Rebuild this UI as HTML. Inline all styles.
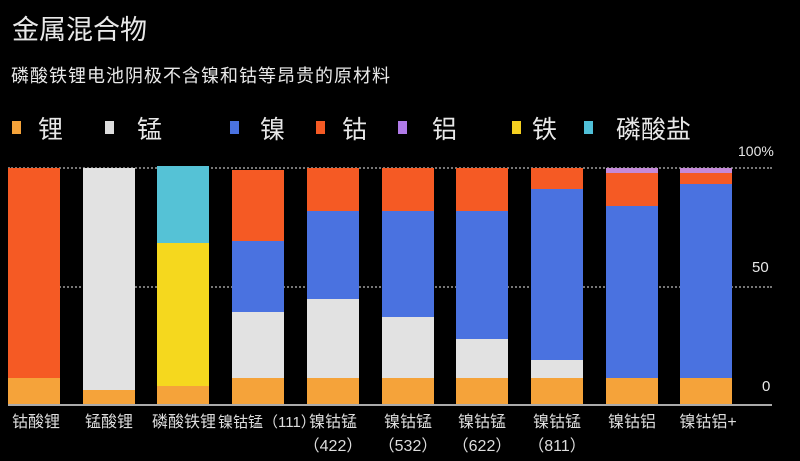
<!DOCTYPE html>
<html><head><meta charset="utf-8"><style>
body{margin:0;width:800px;height:461px;background:#000;overflow:hidden;position:relative;font-family:"Liberation Sans","Noto Sans CJK SC",sans-serif;color:#e8e8e8}
.a{position:absolute;white-space:nowrap}
.sq{position:absolute;width:9px;height:13px;top:121px}
.b{position:absolute;width:52px}
.g{position:absolute;height:0;border-top:2px dotted #777}
.lb{position:absolute;font-size:16px;text-align:center;width:80px;line-height:24px;color:#ddd}
</style></head><body>
<div class="a" style="left:12px;top:8px;font-size:27px">金属混合物</div>
<div class="a" style="left:11px;top:62px;font-size:18px;letter-spacing:1px">磷酸铁锂电池阴极不含镍和钴等昂贵的原材料</div>

<div class="sq" style="left:12px;background:#f5a33a"></div><div class="a" style="left:38px;top:110px;font-size:25px">锂</div>
<div class="sq" style="left:105px;background:#ddd"></div><div class="a" style="left:137px;top:110px;font-size:25px">锰</div>
<div class="sq" style="left:230px;background:#4a72e0"></div><div class="a" style="left:260px;top:110px;font-size:25px">镍</div>
<div class="sq" style="left:316px;background:#f55a24"></div><div class="a" style="left:342px;top:110px;font-size:25px">钴</div>
<div class="sq" style="left:398px;background:#b07ae8"></div><div class="a" style="left:432px;top:110px;font-size:25px">铝</div>
<div class="sq" style="left:512px;background:#f5d020"></div><div class="a" style="left:532px;top:110px;font-size:25px">铁</div>
<div class="sq" style="left:584px;background:#50c0d8"></div><div class="a" style="left:616px;top:110px;font-size:25px">磷酸盐</div>

<div class="g" style="left:8px;width:764px;top:167px"></div>
<div class="g" style="left:8px;width:764px;top:286px"></div>
<div style="position:absolute;left:8px;width:764px;top:404px;height:2px;background:#aaa"></div>
<div class="a" style="left:738px;top:143px;font-size:14px">100%</div>
<div class="a" style="left:752px;top:259px;font-size:15px">50</div>
<div class="a" style="left:762px;top:378px;font-size:15px">0</div>

<div class="b" style="left:8px;top:168px;height:210px;background:#f55a24"></div>
<div class="b" style="left:8px;top:378px;height:26px;background:#f5a33a"></div>
<div class="b" style="left:83px;top:168px;height:222px;background:#e2e2e2"></div>
<div class="b" style="left:83px;top:390px;height:14px;background:#f5a33a"></div>
<div class="b" style="left:157px;top:166px;height:77px;background:#55c2d6"></div>
<div class="b" style="left:157px;top:243px;height:143px;background:#f5d81e"></div>
<div class="b" style="left:157px;top:386px;height:18px;background:#f5a33a"></div>
<div class="b" style="left:232px;top:170px;height:71px;background:#f55a24"></div>
<div class="b" style="left:232px;top:241px;height:71px;background:#4a72e0"></div>
<div class="b" style="left:232px;top:312px;height:66px;background:#e2e2e2"></div>
<div class="b" style="left:232px;top:378px;height:26px;background:#f5a33a"></div>
<div class="b" style="left:307px;top:168px;height:43px;background:#f55a24"></div>
<div class="b" style="left:307px;top:211px;height:88px;background:#4a72e0"></div>
<div class="b" style="left:307px;top:299px;height:79px;background:#e2e2e2"></div>
<div class="b" style="left:307px;top:378px;height:26px;background:#f5a33a"></div>
<div class="b" style="left:382px;top:168px;height:43px;background:#f55a24"></div>
<div class="b" style="left:382px;top:211px;height:106px;background:#4a72e0"></div>
<div class="b" style="left:382px;top:317px;height:61px;background:#e2e2e2"></div>
<div class="b" style="left:382px;top:378px;height:26px;background:#f5a33a"></div>
<div class="b" style="left:456px;top:168px;height:43px;background:#f55a24"></div>
<div class="b" style="left:456px;top:211px;height:128px;background:#4a72e0"></div>
<div class="b" style="left:456px;top:339px;height:39px;background:#e2e2e2"></div>
<div class="b" style="left:456px;top:378px;height:26px;background:#f5a33a"></div>
<div class="b" style="left:531px;top:168px;height:21px;background:#f55a24"></div>
<div class="b" style="left:531px;top:189px;height:171px;background:#4a72e0"></div>
<div class="b" style="left:531px;top:360px;height:18px;background:#e2e2e2"></div>
<div class="b" style="left:531px;top:378px;height:26px;background:#f5a33a"></div>
<div class="b" style="left:606px;top:168px;height:5px;background:#c58ad8"></div>
<div class="b" style="left:606px;top:173px;height:33px;background:#f55a24"></div>
<div class="b" style="left:606px;top:206px;height:172px;background:#4a72e0"></div>
<div class="b" style="left:606px;top:378px;height:26px;background:#f5a33a"></div>
<div class="b" style="left:680px;top:168px;height:5px;background:#c58ad8"></div>
<div class="b" style="left:680px;top:173px;height:11px;background:#f55a24"></div>
<div class="b" style="left:680px;top:184px;height:194px;background:#4a72e0"></div>
<div class="b" style="left:680px;top:378px;height:26px;background:#f5a33a"></div>

<div class="lb" style="left:-4px;top:411px">钴酸锂</div>
<div class="lb" style="left:69px;top:411px">锰酸锂</div>
<div class="lb" style="left:144px;top:411px">磷酸铁锂</div>
<div class="lb" style="left:218px;top:411px;width:92px;font-size:15px">镍钴锰（111）</div>
<div class="lb" style="left:293px;top:411px">镍钴锰<br>（422）</div>
<div class="lb" style="left:368px;top:411px">镍钴锰<br>（532）</div>
<div class="lb" style="left:442px;top:411px">镍钴锰<br>（622）</div>
<div class="lb" style="left:517px;top:411px">镍钴锰<br>（811）</div>
<div class="lb" style="left:592px;top:411px">镍钴铝</div>
<div class="lb" style="left:668px;top:411px">镍钴铝+</div>
</body></html>
